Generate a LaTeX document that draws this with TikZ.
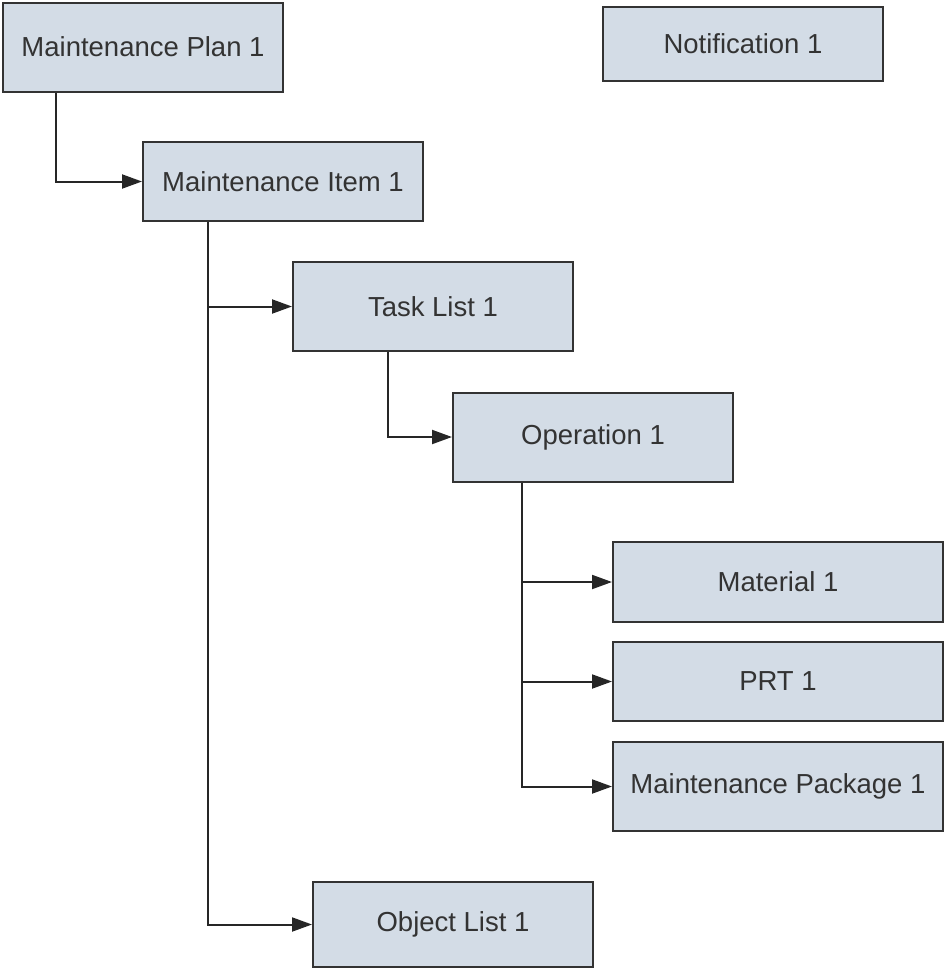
\documentclass[tikz,border=0pt]{standalone}
\usepackage{fontspec}
\setmainfont{Liberation Sans}
\usetikzlibrary{arrows.meta}
\definecolor{boxfill}{HTML}{D3DCE6}
\definecolor{boxline}{HTML}{333333}
\begin{document}
\begin{tikzpicture}[x=1pt,y=-1pt,
  box/.style={draw=boxline,fill=boxfill,line width=2pt,minimum width=280pt,minimum height=#1,inner sep=0pt,font=\fontsize{27.5}{33}\selectfont,text=black!80},
  box/.default=89pt,
  conn/.style={draw=black!85,line width=2pt,-{Triangle[length=20pt,width=14pt]}}]
\useasboundingbox (0,0) rectangle (945,970);
\node[box] (mp) at (143,47) {Maintenance Plan 1};
\node[box=74pt] (nt) at (743,44) {Notification 1};
\node[box=79pt] (mi) at (283,181.5) {Maintenance Item 1};
\node[box] (tl) at (433,306.5) {Task List 1};
\node[box] (op) at (593,437) {Operation 1};
\node[box=80pt,minimum width=330pt] (ma) at (778,582) {Material 1};
\node[box=79pt,minimum width=330pt] (prt) at (778,681.5) {PRT 1};
\node[box,minimum width=330pt] (pk) at (778,786.5) {Maintenance Package 1};
\node[box=85pt] (ol) at (453,924.5) {Object List 1};
\draw[conn] (mp.south west) ++(54,0) |- (mi.west);
\draw[conn] (mi.south west) ++(66,0) |- (ol.west);
\draw[conn] (mi.south west) ++(66,0) |- (tl.west);
\draw[conn] (tl.south west) ++(96,0) |- (op.west);
\draw[conn] (op.south west) ++(70,0) |- (pk.west);
\draw[conn] (op.south west) ++(70,0) |- (ma.west);
\draw[conn] (op.south west) ++(70,0) |- (prt.west);
\end{tikzpicture}
\end{document}
